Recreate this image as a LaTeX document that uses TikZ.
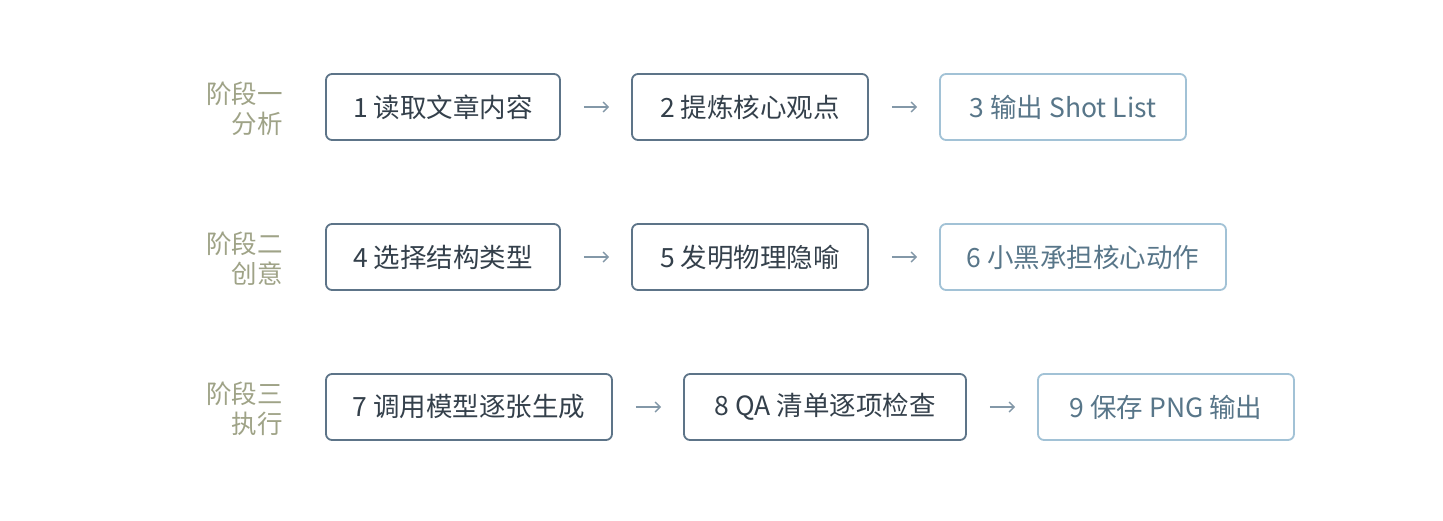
\documentclass[tikz,border=0pt]{standalone}
\usepackage{fontspec}
\setmainfont{Noto Sans CJK SC}
\usetikzlibrary{arrows.meta}
\definecolor{lbl}{HTML}{9FA387}
\definecolor{darkb}{HTML}{5D7488}
\definecolor{darkt}{HTML}{34404B}
\definecolor{lightb}{HTML}{A2C2D6}
\definecolor{lightt}{HTML}{587689}
\definecolor{arr}{HTML}{8398A8}
\tikzset{
  box/.style={draw, line width=1.8pt, rounded corners=6pt, minimum height=66pt,
    inner sep=0pt, font=\fontsize{26.5}{30}\selectfont, fill=white},
  darkbox/.style={box, draw=darkb, text=darkt},
  lightbox/.style={box, draw=lightb, text=lightt},
  stage/.style={anchor=east, align=right, text=lbl, inner sep=0pt,
    font=\fontsize{25.5}{30}\selectfont},
  flow/.style={draw=arr, line width=1.4pt, -{Straight Barb[length=5pt,width=10pt]},
    shorten <=23pt, shorten >=22pt}
}
\begin{document}
\begin{tikzpicture}[x=1pt,y=-1pt]
\fill[white] (0,0) rectangle (1443,520);
\useasboundingbox (0,0) rectangle (1443,520);
% stage labels
\node[stage] (s1) at (283,109) {阶段一\\分析};
\node[stage] (s2) at (283,259) {阶段二\\创意};
\node[stage] (s3) at (283,409) {阶段三\\执行};
% row 1
\node[darkbox, minimum width=234pt] (b1) at (443,107) {1 读取文章内容};
\node[darkbox, minimum width=236pt] (b2) at (750,107) {2 提炼核心观点};
\node[lightbox, minimum width=246pt] (b3) at (1063,107) {3 输出 Shot List};
% row 2
\node[darkbox, minimum width=234pt] (b4) at (443,257) {4 选择结构类型};
\node[darkbox, minimum width=236pt] (b5) at (750,257) {5 发明物理隐喻};
\node[lightbox, minimum width=286pt] (b6) at (1083,257) {6 小黑承担核心动作};
% row 3
\node[darkbox, minimum width=286pt] (b7) at (469,407) {7 调用模型逐张生成};
\node[darkbox, minimum width=282pt] (b8) at (825,407) {8 QA 清单逐项检查};
\node[lightbox, minimum width=256pt] (b9) at (1166,407) {9 保存 PNG 输出};
% arrows
\draw[flow] (b1) -- (b2);
\draw[flow] (b2) -- (b3);
\draw[flow] (b4) -- (b5);
\draw[flow] (b5) -- (b6);
\draw[flow] (b7) -- (b8);
\draw[flow] (b8) -- (b9);
\end{tikzpicture}
\end{document}
